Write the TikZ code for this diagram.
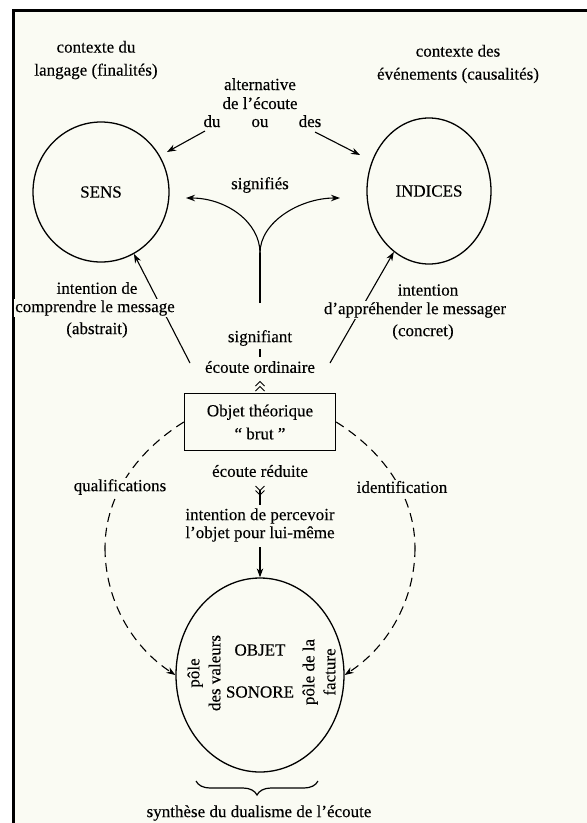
\documentclass[tikz,border=0pt]{standalone}
\usepackage{fontspec}
\setmainfont{Liberation Serif}[UprightFeatures={FakeBold=0.25}]
\usetikzlibrary{shapes.geometric,arrows.meta,decorations.pathreplacing}
\definecolor{bg}{HTML}{FAFBF3}
\begin{document}
\begin{tikzpicture}[x=1pt,y=-1pt,
  every node/.style={inner sep=1pt, align=center, font=\fontsize{17}{21}\selectfont},
  tight/.style={font=\fontsize{17}{18}\selectfont},
  wide/.style={font=\fontsize{17}{23}\selectfont},
  cover/.style={fill=bg},
  ring/.style={draw, ellipse, line width=1.3pt, inner sep=0pt},
  conn/.style={line width=1.1pt},
  arr/.style={conn, -{Stealth[length=9pt,width=6.5pt]}},
  dashline/.style={conn, dash pattern=on 9pt off 6pt},
  chev/.style={line width=1pt}]
\useasboundingbox (0,0) rectangle (587,823);
\fill[white] (0,0) rectangle (587,823);
\fill[bg] (13,10) rectangle (587,823);
\draw[line width=3pt] (13.5,823) -- (13.5,10.5) -- (587,10.5);

% top texts
\node[wide] (ctxL) at (96,60) {contexte du\\langage (finalités)};
\node[wide] (ctxR) at (458,64) {contexte des\\événements (causalités)};
\node[anchor=base] (alt1) at (260,90) {alternative};
\node[anchor=base] (alt2) at (260,109) {de l'écoute};
\node[anchor=base] (du) at (212,127) {du};
\node[anchor=base] (ou) at (260,127) {ou};
\node[anchor=base] (des) at (310,127) {des};

% circles
\node[ring, minimum width=136pt, minimum height=140pt] (sens) at (101,192) {SENS};
\node[ring, minimum width=124pt, minimum height=146pt] (indices) at (429,191) {INDICES};

\coordinate (duEnd) at (167,152);
\coordinate (desEnd) at (360,155);
\draw[arr] (205,131) -- (duEnd);
\draw[arr] (315,132) -- (desEnd);

% signifies
\node (signifies) at (260,185) {signifiés};
\coordinate (stem) at (260,303);
\coordinate (fork) at (260,253);
\coordinate (sigL) at (186,198);
\coordinate (sigR) at (340,198);
\draw[conn] (stem) -- (fork);
\draw[arr] (fork) .. controls (260,222) and (226,198) .. (sigL);
\draw[arr] (fork) .. controls (260,222) and (300,198) .. (sigR);

% intentions
\coordinate (dl) at (190,363);
\coordinate (dr) at (330,363);
\draw[arr] (dl) -- (sens.-62);
\draw[arr] (dr) -- (indices.-120);
\node (iL1) at (97,288) {intention de};
\node[cover] (iL2) at (95,308) {comprendre le message};
\node (iL3) at (97,330) {(abstrait)};
\node (iR1) at (428,290) {intention};
\node[cover] (iR2) at (415,310) {d'appréhender le messager};
\node (iR3) at (423,332) {(concret)};

\node (signifiant) at (260,338) {signifiant};
\draw[conn] (260,349) -- (260,357);
\node (ord) at (260,367) {écoute ordinaire};

% central box
\node[draw, line width=1.3pt, minimum width=151pt, minimum height=57pt, wide] (box) at (260,422) {Objet théorique\\`` brut ''};
\draw[chev] (255.5,386) -- (260,381.5) -- (264.5,386);
\draw[chev] (255.5,391) -- (260,386.5) -- (264.5,391);

\node (red) at (260,471) {écoute réduite};
\draw[chev] (255.5,486) -- (260,490.5) -- (264.5,486);
\draw[chev] (255.5,490.5) -- (260,495) -- (264.5,490.5);
\draw[conn] (260,490) -- (260,505);
\node[tight] (perc) at (260,525) {intention de percevoir\\l'objet pour lui-même};

% objet sonore
\node[ring, minimum width=168pt, minimum height=194pt] (objet) at (260,675) {};
\draw[arr] (260,547) -- (objet.north);
\node (obj1) at (260,650) {OBJET};
\node (obj2) at (260,692) {SONORE};
\node[rotate=90] (poleL) at (204,673) {pôle\\des valeurs};
\node[rotate=90] (poleR) at (319,672) {pôle de la\\facture};

% dashed arcs
\coordinate (lmid) at (105,548);
\coordinate (rmid) at (415,548);
\draw[dashline] (box.west) .. controls (139,450) and (105,494) .. (lmid);
\draw[dashline, -{Stealth[length=9pt,width=6.5pt]}] (lmid) .. controls (105,599) and (131,646) .. (objet.west);
\draw[dashline] (box.east) .. controls (381,450) and (415,494) .. (rmid);
\draw[dashline, -{Stealth[length=9pt,width=6.5pt]}] (rmid) .. controls (415,599) and (389,646) .. (objet.east);
\node[cover] (qual) at (120,487) {qualifications};
\node[cover] (ident) at (402,487) {identification};

% brace
\draw[line width=1.2pt, decorate, decoration={brace, amplitude=14pt}] (318,781) -- (196,781);
\node (synth) at (259,813) {synthèse du dualisme de l'écoute};
\end{tikzpicture}
\end{document}
